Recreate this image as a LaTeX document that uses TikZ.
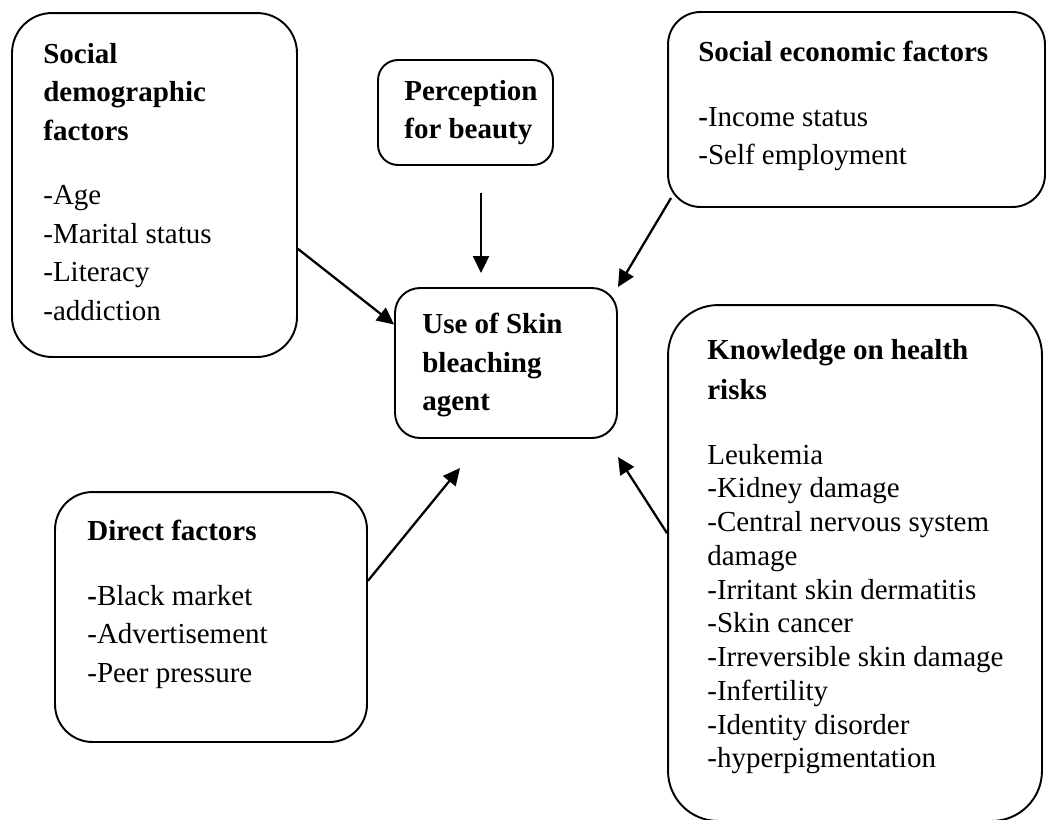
\documentclass[tikz,border=0pt]{standalone}
\usepackage{fontspec}
\setmainfont{Liberation Serif}
\usepackage{tikz}
\usetikzlibrary{arrows.meta}
\tikzset{
    factor/.style={draw, line width=1.1pt, inner sep=0pt},
    boxtext/.style={anchor=north west, inner sep=0pt, align=left, font=\fontsize{16.5}{21.9}\selectfont},
    link/.style={line width=1.3pt, -{Triangle[length=0.34cm,width=0.32cm]}}
}

\begin{document}
\begin{tikzpicture}[x=0.02cm, y=-0.02cm]
        \useasboundingbox (0,0) rectangle (1047,819);
        \clip (0,0) rectangle (1047,819);

        % boxes
        \node[factor, rounded corners=0.8cm, minimum width=5.7cm, minimum height=6.88cm] (demo) at (154.5,185) {};
        \node[factor, rounded corners=0.4cm, minimum width=3.5cm, minimum height=2.1cm] (perc) at (465.5,112.5) {};
        \node[factor, rounded corners=0.65cm, minimum width=7.54cm, minimum height=3.9cm] (sef) at (856.5,109.5) {};
        \node[factor, rounded corners=0.5cm, minimum width=4.44cm, minimum height=3cm] (use) at (506,363) {};
        \node[factor, rounded corners=0.75cm, minimum width=6.24cm, minimum height=5cm] (dir) at (211,617) {};
        \node[factor, rounded corners=1cm, minimum width=7.48cm, minimum height=10.32cm] (know) at (855,563) {};

        % texts
        \node[boxtext] (demoTxt) at (43,43) {\textbf{Social}\\ \textbf{demographic}\\ \textbf{factors}\\[14.8pt]
            -Age\\ -Marital status\\ -Literacy\\ -addiction};
        \node[boxtext] (percTxt) at (404,80) {\textbf{Perception}\\ \textbf{for beauty}};
        \node[boxtext] (sefTxt) at (698,41) {\textbf{Social economic factors}\\[14.8pt]
            \textbf{-}Income status\\ -Self employment};
        \node[boxtext] (useTxt) at (422,313) {\textbf{Use of Skin}\\ \textbf{bleaching}\\ \textbf{agent}};
        \node[boxtext] (dirTxt) at (87,520) {\textbf{Direct factors}\\[14.8pt]
            \textbf{-}Black market\\ -Advertisement\\ -Peer pressure};
        \node[boxtext, font=\fontsize{16.5}{19.2}\selectfont] (knowTxt) at (707,339) {\textbf{Knowledge on health}\\[3.4pt] \textbf{risks}\\[17.8pt]
            Leukemia\\ -Kidney damage\\ -Central nervous system\\ damage\\ -Irritant skin dermatitis\\ -Skin cancer\\
            -Irreversible skin damage\\ -Infertility\\ -Identity disorder\\ -hyperpigmentation};

        % arrow ends
        \coordinate (percOut) at (481,193);
        \coordinate (percIn) at (481,273);
        \coordinate (sefOut) at (671,198);
        \coordinate (dirIn) at (460,468);
        \coordinate (knowIn) at (618,457);

        \foreach \from/\to in {demo.-24/use.161, percOut/percIn, sefOut/use.north east, dir.13/dirIn, know.171/knowIn}
        {
            \draw[link] (\from) -- (\to);
        }
    \end{tikzpicture}
\end{document}
